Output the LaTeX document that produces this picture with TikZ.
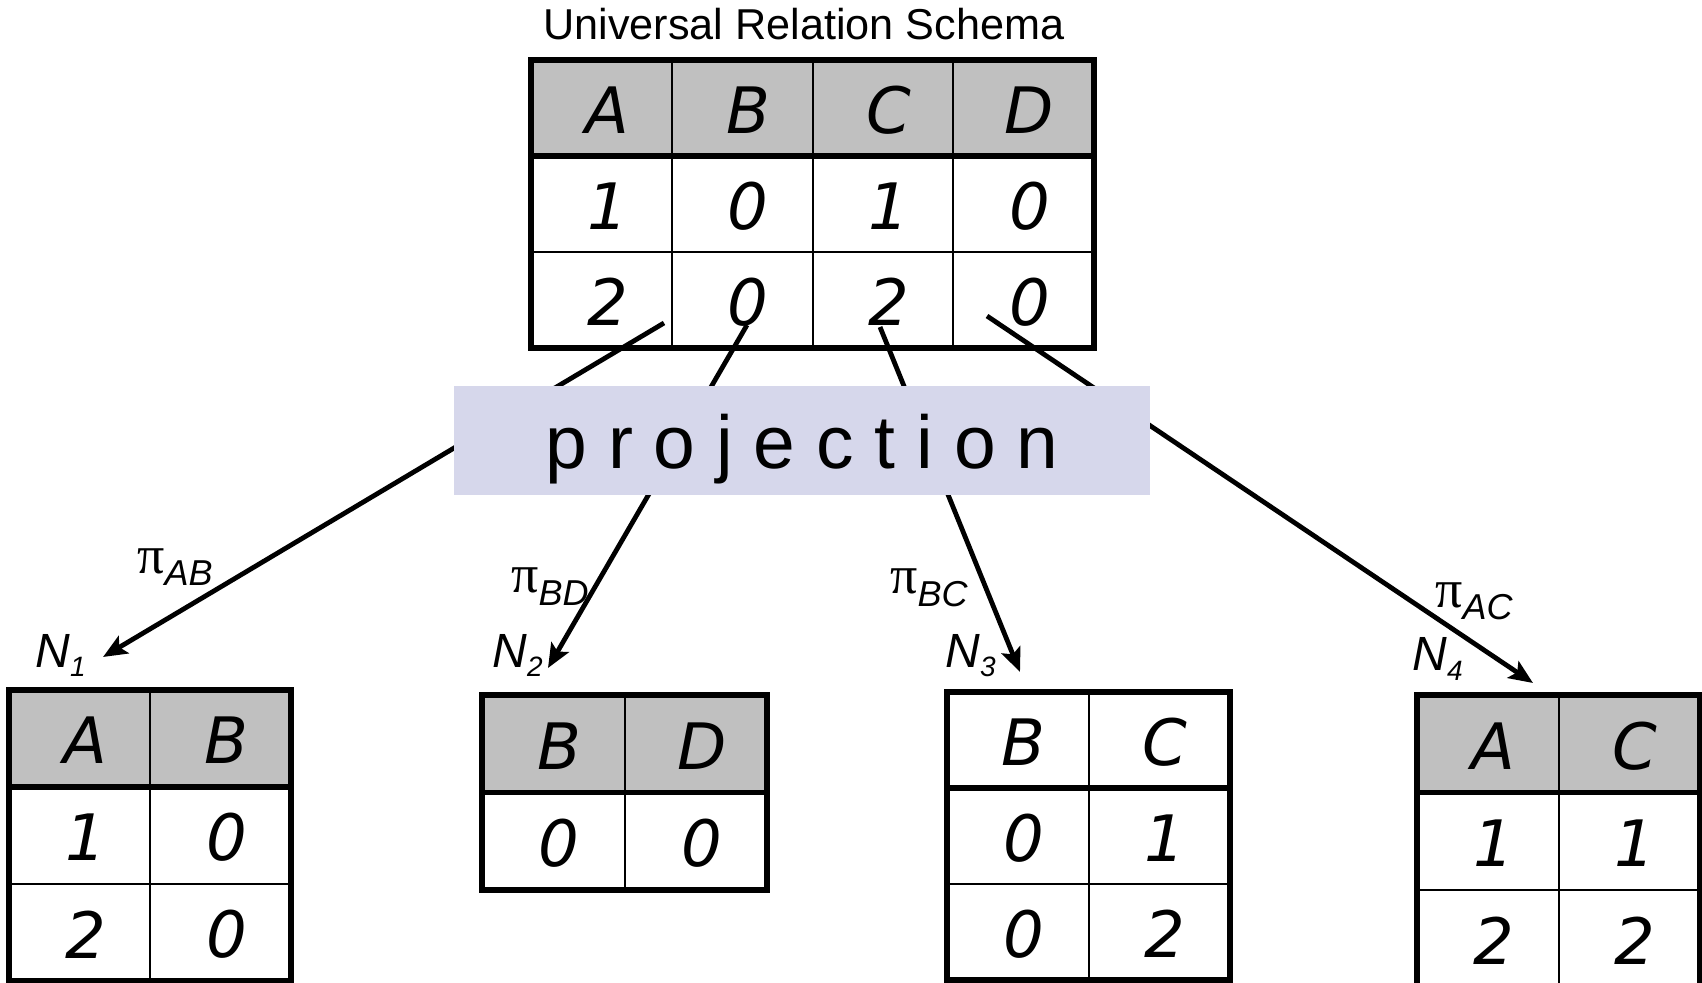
\documentclass[tikz,border=0pt]{standalone}
\usepackage{fontspec}
\setmainfont{Liberation Sans}
\newfontfamily\cellfont{DejaVu Sans}
\newfontfamily\pifont{Liberation Serif}
\usetikzlibrary{arrows.meta}
\definecolor{hdr}{HTML}{C0C0C0}
\definecolor{projfill}{HTML}{D6D7EB}
\tikzset{
  px/.style={x=.5pt,y=-.5pt},
  cell/.style={inner sep=0pt,font=\cellfont\itshape\fontsize{32}{32}\selectfont},
  rim/.style={line width=2.75pt},
  rule/.style={line width=1pt},
  projarrow/.style={line width=2.4pt,-{Stealth[length=12pt,width=10pt,inset=2.5pt]}},
  projbox/.style={fill=projfill,minimum width=348pt,minimum height=54.5pt,inner sep=0pt,
    text height=30pt,text depth=2pt,font=\fontsize{37.5}{37.5}\selectfont},
  nlab/.style={anchor=base west,inner sep=0pt,font=\itshape\fontsize{24}{24}\selectfont},
  pilab/.style={anchor=base west,inner sep=0pt,font=\fontsize{27}{27}\selectfont}
}
\newcommand{\nsub}[1]{\raisebox{-5pt}{\fontsize{14}{14}\selectfont #1}}
\newcommand{\pisub}[1]{{\pifont π}\raisebox{-6pt}{\fontsize{18}{18}\selectfont\itshape #1}}
% relation table: name, left, top, cols, rows, cell width, row height, header fill, c/r/text
\newcommand{\reltable}[9]{%
  \begin{scope}[shift={(#2,#3)}]
    \pgfmathtruncatemacro\lastcol{#4-1}
    \pgfmathtruncatemacro\lastrow{#5-1}
    \fill[#8] (0,0) rectangle ({#4*#6},#7);
    \foreach \i in {1,...,\lastcol} \draw[rule] ({\i*#6},0) -- ({\i*#6},{#5*#7});
    \foreach \j in {1,...,\lastrow} \draw[rule] (0,{\j*#7}) -- ({#4*#6},{\j*#7});
    \draw[rim] (0,#7) -- ({#4*#6},#7);
    \draw[rim] (0,0) rectangle ({#4*#6},{#5*#7});
    \foreach \c/\r/\txt in {#9}
      \node[cell] (#1-\r-\c) at ({(\c-.5)*#6+6},{(\r-.5)*#7+2}) {\txt};
  \end{scope}}

\begin{document}
\begin{tikzpicture}[px]
  \useasboundingbox (0,0) rectangle (1702,983);
  \clip (0,0) rectangle (1702,983);

  % universal relation
  \node[anchor=base,inner sep=0pt,font=\fontsize{21.6}{21.6}\selectfont] (title) at (804,40) {Universal Relation Schema};
  \reltable{u}{531}{60}{4}{3}{140.75}{96}{hdr}{1/1/A,2/1/B,3/1/C,4/1/D,1/2/1,2/2/0,3/2/1,4/2/0,1/3/2,2/3/0,3/3/2,4/3/0}

  % the four projections
  \reltable{n1}{9}{690}{2}{3}{141}{97}{hdr}{1/1/A,2/1/B,1/2/1,2/2/0,1/3/2,2/3/0}
  \reltable{n2}{482}{695}{2}{2}{142.5}{97.5}{hdr}{1/1/B,2/1/D,1/2/0,2/2/0}
  \reltable{n3}{947}{692}{2}{3}{141.5}{96}{white}{1/1/B,2/1/C,1/2/0,2/2/1,1/3/0,2/3/2}
  \reltable{n4}{1417}{695}{2}{3}{141.5}{97.5}{hdr}{1/1/A,2/1/C,1/2/1,2/2/1,1/3/2,2/3/2}

  \node[nlab] (l1) at (35,667) {N\nsub{1}};
  \node[nlab] (l2) at (492,667) {N\nsub{2}};
  \node[nlab] (l3) at (945,667) {N\nsub{3}};
  \node[nlab] (l4) at (1412,670) {N\nsub{4}};

  \node[pilab] (p1) at (137,574) {\pisub{AB}};
  \node[pilab] (p2) at (511,593) {\pisub{BD}};
  \node[pilab] (p3) at (890,594) {\pisub{BC}};
  \node[pilab] (p4) at (1435,607) {\pisub{AC}};

  % arrows start inside the last row
  \coordinate (s1) at (664,323);
  \coordinate (s2) at (747,325);
  \coordinate (s3) at (880,327);
  \coordinate (s4) at (987,316);
  \coordinate (e1) at (103,657);
  \coordinate (e2) at (548,668);
  \coordinate (e3) at (1020,672);
  \coordinate (e4) at (1533,683);
  \foreach \k in {1,...,4} \draw[projarrow] (s\k) -- (e\k);

  \node[projbox] (proj) at (802,440.5) {p r o j e c t i o n};
\end{tikzpicture}
\end{document}
